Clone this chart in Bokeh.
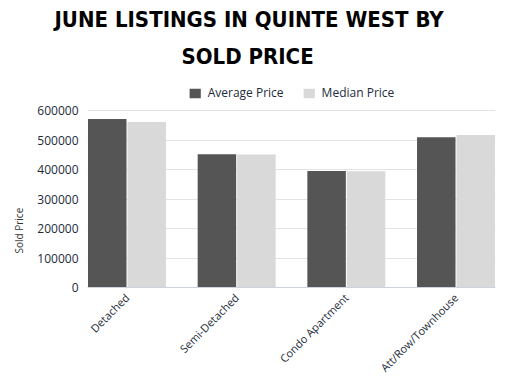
import math
from bokeh.plotting import figure
from bokeh.models import (Range1d, FixedTicker, NumeralTickFormatter,
                          Legend, LegendItem, Title, ColumnDataSource)
from bokeh.transform import dodge
from bokeh.embed import file_html
from bokeh.resources import INLINE

title_line1 = "JUNE LISTINGS IN QUINTE WEST BY"
title_line2 = "SOLD PRICE"
categories = ["Detached", "Semi-Detached", "Condo Apartment", "Att/Row/Townhouse"]
series_names = ["Average Price", "Median Price"]
average_price = [571000, 452000, 395000, 509000]
median_price = [561000, 451000, 394000, 517000]
y_ticks = [0, 100000, 200000, 300000, 400000, 500000, 600000]
y_title = "Sold Price"

avg_color = "#555555"
med_color = "#d9d9d9"
text_color = "#1d2b3a"
font = "Open Sans"

positions = list(range(len(categories)))
half_group = 0.36
bar_w = 0.351
offset = 0.18
# frame extends above the top tick to hold the legend (213 px frame, 177 px for the top tick)
y_end = y_ticks[-1] * 213 / 177

p = figure(x_range=Range1d(-half_group, positions[-1] + half_group),
           y_range=Range1d(0, y_end), frame_width=408, frame_height=213,
           output_backend="svg", toolbar_location=None,
           min_border_left=87, min_border_right=1, min_border_top=66, min_border_bottom=80)
p.outline_line_color = None

src = ColumnDataSource(dict(x=positions, avg=average_price, med=median_price))
r_avg = p.vbar(x=dodge("x", -offset, range=p.x_range), top="avg", width=bar_w, source=src,
               fill_color=avg_color, line_color=None)
r_med = p.vbar(x=dodge("x", offset, range=p.x_range), top="med", width=bar_w, source=src,
               fill_color=med_color, line_color=None)

# axes
p.yaxis.ticker = FixedTicker(ticks=y_ticks)
p.yaxis.formatter = NumeralTickFormatter(format="0")
p.yaxis.axis_line_color = None
p.yaxis.major_tick_line_color = None
p.yaxis.minor_tick_line_color = None
p.yaxis.major_tick_out = 0
p.yaxis.major_tick_in = 0
p.yaxis.major_label_text_font = font
p.yaxis.major_label_text_font_size = "12px"
p.yaxis.major_label_text_color = text_color
p.yaxis.major_label_standoff = 9

p.xaxis.ticker = FixedTicker(ticks=positions)
p.xaxis.major_label_overrides = {i: c for i, c in zip(positions, categories)}
p.xaxis.axis_line_color = "#ccd3da"
p.xaxis.major_tick_line_color = None
p.xaxis.minor_tick_line_color = None
p.xaxis.major_tick_out = 0
p.xaxis.major_tick_in = 0
p.xaxis.major_label_text_font = font
p.xaxis.major_label_text_font_size = "11px"
p.xaxis.major_label_text_color = text_color
p.xaxis.major_label_orientation = math.pi / 4
p.xaxis.major_label_standoff = 8

p.xgrid.grid_line_color = None
p.ygrid.grid_line_color = "#e3e3e3"

legend = Legend(items=[LegendItem(label=series_names[0], renderers=[r_avg]),
                       LegendItem(label=series_names[1], renderers=[r_med])],
                orientation="horizontal", location="top_center",
                glyph_width=14, glyph_height=12, label_standoff=6, spacing=18,
                label_text_font=font, label_text_font_size="12px", label_text_color=text_color,
                border_line_color=None, background_fill_alpha=0, padding=0, margin=10)
p.add_layout(legend, "center")

# y axis title on the left
p.add_layout(Title(text=y_title, align="left", offset=34, text_font=font,
                   text_font_size="10px", text_font_style="normal", text_color="#333333",
                   standoff=17), "left")

title_font = "DejaVu Sans Condensed"
t2 = Title(text=title_line2, align="left", offset=94, text_font=title_font,
           text_font_size="22px", text_font_style="bold", text_color="black", standoff=12)
t1 = Title(text=title_line1, align="left", offset=-33, text_font=title_font,
           text_font_size="22px", text_font_style="bold", text_color="black", standoff=8)
p.add_layout(t2, "above")
p.add_layout(t1, "above")

open("out.html", "w").write(file_html(p, INLINE))
